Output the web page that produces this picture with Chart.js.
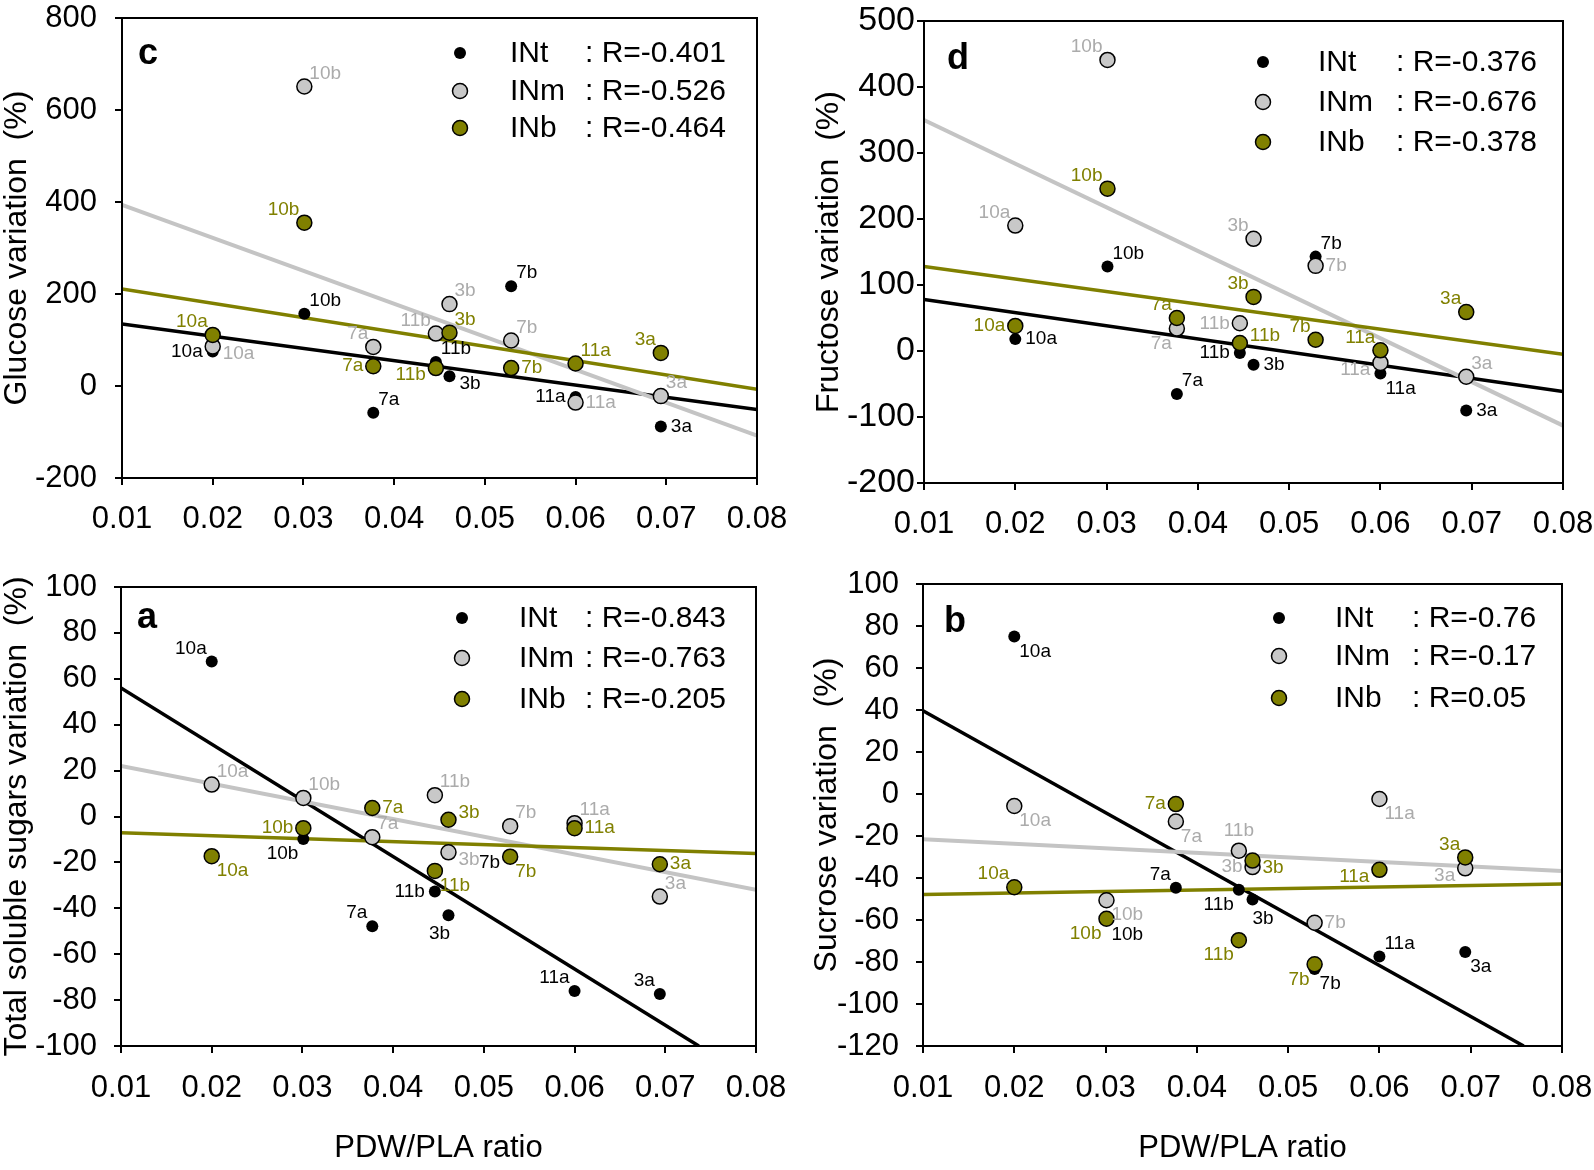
<!DOCTYPE html>
<html>
<head>
<meta charset="utf-8">
<title>PDW/PLA ratio vs sugar variation</title>
<script src="https://cdn.jsdelivr.net/npm/chart.js@4.4.1/dist/chart.umd.min.js"></script>
<style>
    html, body { margin: 0; padding: 0; background: #fff; }
    #wrap { position: relative; width: 1594px; height: 1170px; }
    canvas { position: absolute; }
</style>
</head>
<body>
<div id="wrap">
    <canvas id="chartC" width="797" height="560" style="left:0px;top:0px"></canvas>
    <canvas id="chartD" width="797" height="560" style="left:797px;top:0px"></canvas>
    <canvas id="chartA" width="797" height="610" style="left:0px;top:560px"></canvas>
    <canvas id="chartB" width="797" height="610" style="left:797px;top:560px"></canvas>
</div>
<script>
    // samples, same order in every array below
    const sampleNames = ['10a', '10b', '7a', '7b', '11a', '11b', '3a', '3b'];
    const pdwPlaRatio = [0.0200, 0.0301, 0.0377, 0.0529, 0.0600, 0.0446, 0.0694, 0.0461];

    // c - glucose variation (%)
    const glucoseINt = [75, 157, -58, 217, -24, 52, -88, 21];
    const glucoseINm = [86, 651, 85, 99, -36, 114, -22, 178];
    const glucoseINb = [111, 355, 43, 39, 49, 39, 72, 116];

    // d - fructose variation (%)
    const fructoseINt = [18, 128, -65, 143, -34, -3, -90, -21];
    const fructoseINm = [190, 441, 34, 129, -18, 42, -39, 170];
    const fructoseINb = [38, 246, 50, 17, 1, 12, 59, 82];

    // a - total soluble sugars variation (%)
    const totalINt = [67.5, -9.8, -47.8, -17, -76, -32.7, -77.3, -43];
    const totalINm = [13.9, 8.1, -9, -4.2, -2.9, 9.3, -34.9, -15.6];
    const totalINb = [-17.3, -5.1, 3.7, -17.5, -5.1, -23.7, -20.8, -1.4];

    // b - sucrose variation (%)
    const sucroseINt = [75, -60, -44.6, -83.3, -77.4, -45.6, -75.2, -50.2];
    const sucroseINm = [-5.7, -50.6, -13.1, -61.3, -2.4, -27, -35.4, -34.8];
    const sucroseINb = [-44.4, -59.4, -4.8, -81.1, -36.1, -69.6, -30.2, -31.7];

    // regression lines, end points
    const fitX = [0.01, 0.08];
    const glucoseFitINt = [135, -51];
    const glucoseFitINm = [394, -108];
    const glucoseFitINb = [211, -7];
    const fructoseFitINt = [78, -61.5];
    const fructoseFitINm = [350, -113];
    const fructoseFitINb = [128, -5];
    const totalFitINtX = [0.01, 0.0737];
    const totalFitINt = [56, -100];
    const totalFitINm = [22, -31.9];
    const totalFitINb = [-7.1, -16.1];
    const sucroseFitINtX = [0.01, 0.0758];
    const sucroseFitINt = [39.6, -120];
    const sucroseFitINm = [-21.5, -36.7];
    const sucroseFitINb = [-47.8, -42.8];

    // correlation coefficients shown in the legends
    const glucoseR = [': R=-0.401', ': R=-0.526', ': R=-0.464'];
    const fructoseR = [': R=-0.376', ': R=-0.676', ': R=-0.378'];
    const totalR = [': R=-0.843', ': R=-0.763', ': R=-0.205'];
    const sucroseR = [': R=-0.76', ': R=-0.17', ': R=0.05'];

    // y axis ticks: min, max, step
    const glucoseTicks = [-200, 800, 200];
    const fructoseTicks = [-200, 500, 100];
    const totalTicks = [-100, 100, 20];
    const sucroseTicks = [-120, 100, 20];

    const FONT = "'Liberation Sans', Arial, Helvetica, sans-serif";
    Chart.defaults.font.family = FONT;
    Chart.defaults.color = '#000';

    const SERIES = [
        {name: 'INt', fill: '#000000', radius: 6, border: 0, text: '#000000', line: '#000000', lineWidth: 3.5},
        {name: 'INm', fill: '#c8c8c8', radius: 7.5, border: 1.5, text: '#ababab', line: '#c4c4c4', lineWidth: 4},
        {name: 'INb', fill: '#808000', radius: 7.5, border: 1.5, text: '#808000', line: '#808000', lineWidth: 3.5}
    ];

    // where a point's name sits relative to the point
    const OFFSETS = {
        e: [10, 0, 'left'], ene: [10, -7, 'left'], ese: [10, 7, 'left'],
        ne: [5, -13, 'left'], se: [5, 15, 'left'], sse: [0, 19, 'left'],
        w: [-10, 0, 'right'], wsw: [-10, 7, 'right'],
        nw: [-5, -13, 'right'], sw: [-5, 15, 'right'], ssw: [-9, 19, 'center'],
        n: [0, -20, 'center'], s: [0, 20, 'center']
    };

    function toPoints(xs, ys) {
        return ys.map(function (y, i) { return {x: xs[i], y: y}; });
    }

    function makeDecor(p) {
        return {
            id: 'decor_' + p.id,
            afterDatasetsDraw: function (chart) {
                const ctx = chart.ctx;
                const area = chart.chartArea;
                ctx.save();

                // full frame round the plot
                ctx.strokeStyle = '#000';
                ctx.lineWidth = 2;
                ctx.strokeRect(area.left, area.top, area.right - area.left, area.bottom - area.top);

                // names of the points
                ctx.font = '19px ' + FONT;
                ctx.textBaseline = 'middle';
                p.labelDirs.forEach(function (dirs, s) {
                    const meta = chart.getDatasetMeta(s);
                    ctx.fillStyle = SERIES[s].text;
                    meta.data.forEach(function (el, i) {
                        const off = OFFSETS[dirs[i]];
                        ctx.textAlign = off[2];
                        ctx.fillText(sampleNames[i], el.x + off[0], el.y + off[1]);
                    });
                });

                // legend
                ctx.font = '30px ' + FONT;
                ctx.textAlign = 'left';
                SERIES.forEach(function (s, k) {
                    const y = p.legend.rows[k];
                    ctx.beginPath();
                    ctx.arc(p.legend.mx, y, s.radius, 0, Math.PI * 2);
                    ctx.fillStyle = s.fill;
                    ctx.fill();
                    if (s.border) {
                        ctx.lineWidth = s.border;
                        ctx.strokeStyle = '#000';
                        ctx.stroke();
                    }
                    ctx.fillStyle = '#000';
                    ctx.fillText(s.name, p.legend.tx, y + 1);
                    ctx.fillText(p.rTexts[k], p.legend.cx, y + 1);
                });

                // panel letter
                ctx.font = 'bold 36px ' + FONT;
                ctx.textBaseline = 'alphabetic';
                ctx.fillText(p.letter, p.letterPos[0], p.letterPos[1]);
                ctx.restore();
            }
        };
    }

    function makePanel(p) {
        const datasets = [];
        p.values.forEach(function (ys, s) {
            datasets.push({
                type: 'scatter',
                label: SERIES[s].name,
                data: toPoints(pdwPlaRatio, ys),
                pointRadius: SERIES[s].radius,
                pointBackgroundColor: SERIES[s].fill,
                pointBorderColor: '#000',
                pointBorderWidth: SERIES[s].border,
                order: 2 - s
            });
        });
        p.fits.forEach(function (f, s) {
            datasets.push({
                type: 'line',
                label: SERIES[s].name + ' fit',
                data: toPoints(f.x, f.y),
                borderColor: SERIES[s].line,
                borderWidth: SERIES[s].lineWidth,
                pointRadius: 0,
                fill: false,
                order: 5 - s
            });
        });

        return new Chart(document.getElementById(p.id), {
            type: 'scatter',
            data: {datasets: datasets},
            options: {
                responsive: false,
                animation: false,
                events: [],
                layout: {padding: {left: 0, right: p.padRight, top: p.padTop, bottom: 0}},
                plugins: {legend: {display: false}, tooltip: {enabled: false}},
                scales: {
                    x: {
                        type: 'linear',
                        min: 0.01,
                        max: 0.08,
                        ticks: {
                            stepSize: 0.01,
                            padding: p.xTickPad,
                            font: {size: 31},
                            color: '#000',
                            callback: function (v) { return v.toFixed(2); }
                        },
                        grid: {drawOnChartArea: false, tickLength: 7, color: '#000', lineWidth: 2},
                        border: {color: '#000', width: 2},
                        title: {
                            display: p.xTitle,
                            text: 'PDW/PLA ratio',
                            font: {size: 31},
                            color: '#000',
                            padding: {top: 0, bottom: 3}
                        },
                        afterFit: function (scale) {
                            scale.height = p.xHeight;
                            scale.paddingLeft = 0;
                            scale.paddingRight = 0;
                        }
                    },
                    y: {
                        type: 'linear',
                        min: p.yTicks[0],
                        max: p.yTicks[1],
                        ticks: {
                            stepSize: p.yTicks[2],
                            padding: p.yTickPad,
                            font: {size: p.yTickSize},
                            color: '#000'
                        },
                        grid: {drawOnChartArea: false, tickLength: 7, color: '#000', lineWidth: 2},
                        border: {color: '#000', width: 2},
                        title: {
                            display: true,
                            text: p.yTitle,
                            font: {size: 32, lineHeight: 1.1},
                            color: '#000',
                            padding: {top: p.yTitlePad, bottom: 0}
                        },
                        afterFit: function (scale) {
                            scale.width = p.yWidth;
                            // the tick labels may overhang the plot, keep the layout padding as set
                            scale.paddingTop = 0;
                            scale.paddingBottom = 0;
                        }
                    }
                }
            },
            plugins: [makeDecor(p)]
        });
    }

    makePanel({
        id: 'chartC', letter: 'c', letterPos: [138, 64],
        yTitle: 'Glucose variation  (%)', yTicks: glucoseTicks,
        values: [glucoseINt, glucoseINm, glucoseINb],
        fits: [{x: fitX, y: glucoseFitINt}, {x: fitX, y: glucoseFitINm}, {x: fitX, y: glucoseFitINb}],
        rTexts: glucoseR,
        labelDirs: [
            ['w', 'ne', 'ne', 'ne', 'w', 'ne', 'e', 'ese'],
            ['ese', 'ne', 'nw', 'ne', 'e', 'nw', 'ne', 'ne'],
            ['nw', 'nw', 'w', 'e', 'ne', 'wsw', 'nw', 'ne']
        ],
        legend: {mx: 460, tx: 510, cx: 585, rows: [53, 91, 128]},
        yWidth: 122, padRight: 40, padTop: 18, xHeight: 82, xTickPad: 16,
        yTickPad: 18, yTickSize: 31, yTitlePad: 0, xTitle: false
    });

    makePanel({
        id: 'chartD', letter: 'd', letterPos: [150, 69],
        yTitle: 'Fructose variation  (%)', yTicks: fructoseTicks,
        values: [fructoseINt, fructoseINm, fructoseINb],
        fits: [{x: fitX, y: fructoseFitINt}, {x: fitX, y: fructoseFitINm}, {x: fitX, y: fructoseFitINb}],
        rTexts: fructoseR,
        labelDirs: [
            ['e', 'ne', 'ne', 'ne', 'se', 'w', 'e', 'e'],
            ['nw', 'nw', 'sw', 'e', 'wsw', 'w', 'ne', 'nw'],
            ['w', 'nw', 'nw', 'nw', 'nw', 'ene', 'nw', 'nw']
        ],
        legend: {mx: 466, tx: 521, cx: 599, rows: [62, 102, 142]},
        yWidth: 127, padRight: 31, padTop: 21, xHeight: 77, xTickPad: 16,
        yTickPad: 2, yTickSize: 34, yTitlePad: 15, xTitle: false
    });

    makePanel({
        id: 'chartA', letter: 'a', letterPos: [137, 68],
        yTitle: 'Total soluble sugars variation  (%)', yTicks: totalTicks,
        values: [totalINt, totalINm, totalINb],
        fits: [{x: totalFitINtX, y: totalFitINt}, {x: fitX, y: totalFitINm}, {x: fitX, y: totalFitINb}],
        rTexts: totalR,
        labelDirs: [
            ['nw', 'sw', 'nw', 'wsw', 'nw', 'w', 'nw', 'ssw'],
            ['ne', 'ne', 'ne', 'ne', 'ne', 'ne', 'ne', 'ese'],
            ['se', 'w', 'e', 'se', 'e', 'se', 'e', 'ene']
        ],
        legend: {mx: 462, tx: 519, cx: 585, rows: [58, 98, 139]},
        yWidth: 121, padRight: 41, padTop: 27, xHeight: 124, xTickPad: 17,
        yTickPad: 17, yTickSize: 31, yTitlePad: 0, xTitle: true
    });

    makePanel({
        id: 'chartB', letter: 'b', letterPos: [147, 72],
        yTitle: 'Sucrose variation  (%)', yTicks: sucroseTicks,
        values: [sucroseINt, sucroseINm, sucroseINb],
        fits: [{x: sucroseFitINtX, y: sucroseFitINt}, {x: fitX, y: sucroseFitINm}, {x: fitX, y: sucroseFitINb}],
        rTexts: sucroseR,
        labelDirs: [
            ['se', 'se', 'nw', 'se', 'ne', 'sw', 'se', 'sse'],
            ['se', 'se', 'se', 'e', 'se', 'n', 'wsw', 'w'],
            ['nw', 'sw', 'w', 'sw', 'wsw', 'sw', 'nw', 'ese']
        ],
        legend: {mx: 482, tx: 538, cx: 615, rows: [58, 96, 138]},
        yWidth: 126, padRight: 32, padTop: 24, xHeight: 124, xTickPad: 17,
        yTickPad: 17, yTickSize: 31, yTitlePad: 13, xTitle: true
    });
</script>
</body>
</html>
